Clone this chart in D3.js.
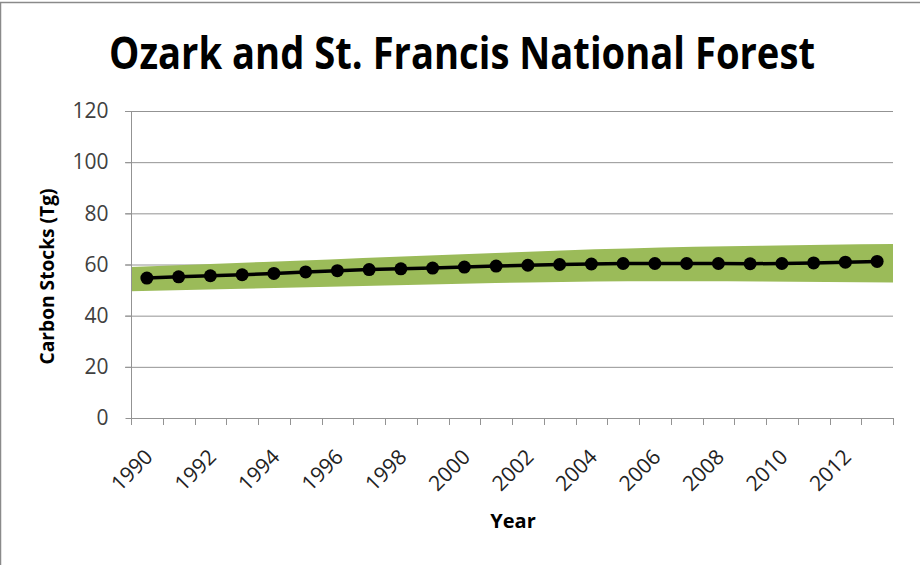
<!DOCTYPE html>
<html><head><meta charset="utf-8">
<script src="https://cdn.jsdelivr.net/npm/d3@7"></script>
<style>html,body{margin:0;padding:0;background:#fff;}svg{display:block;}</style>
</head><body>
<script>
const years = d3.range(1990, 2014);
const carbon = [54.7,55.2,55.6,56.0,56.5,57.1,57.6,58.0,58.3,58.6,59.0,59.4,59.7,60.0,60.2,60.4,60.4,60.4,60.4,60.3,60.4,60.6,60.9,61.2];
const upper = [59.0,59.5,60.0,60.5,61.0,61.5,62.0,62.5,63.0,63.5,64.0,64.5,65.0,65.5,66.0,66.3,66.6,66.9,67.1,67.3,67.5,67.7,67.9,68.0];
const lower = [49.5,49.8,50.1,50.4,50.7,51.0,51.3,51.6,51.9,52.2,52.5,52.8,53.0,53.2,53.4,53.5,53.5,53.5,53.5,53.4,53.3,53.2,53.1,53.0];
const yTicks = [0,20,40,60,80,100,120];
const xLabels = years.filter(y => (y - 1990) % 2 === 0);
const title = "Ozark and St. Francis National Forest";

const W = 920, H = 565;
const L = 131, R = 893, T = 111, B = 418;
const svg = d3.select("body").append("svg").attr("width", W).attr("height", H);
svg.append("rect").attr("x",0.5).attr("y",2.5).attr("width",W+5).attr("height",H+5)
  .attr("fill","#fff").attr("stroke","#8a8a8a").attr("stroke-width",1.5);

const x = d3.scaleBand().domain(years).range([L, R]).paddingInner(0).paddingOuter(0);
const xEdge = d3.scalePoint().domain(years).range([L, R]).padding(0);
const y = d3.scaleLinear().domain([0, 120]).range([B, T]);

svg.append("g").selectAll("line").data(yTicks.filter(d => d > 0)).join("line")
  .attr("x1", L - 6).attr("x2", R).attr("y1", d => y(d) + 0.5).attr("y2", d => y(d) + 0.5)
  .attr("stroke", "#939393").attr("stroke-width", 1);
const band = years.map((yr, i) => ({yr, lo: lower[i], hi: upper[i]}));
svg.append("path").datum(band)
  .attr("d", d3.area().x(d => xEdge(d.yr)).y0(d => y(d.lo)).y1(d => y(d.hi)))
  .attr("fill", "#9bbb59");
const ya = svg.append("g").attr("transform", `translate(${L + 0.5},0)`)
  .call(d3.axisLeft(y).tickValues(yTicks).tickSize(6).tickPadding(8));
ya.select(".domain").attr("stroke", "#939393").attr("d", `M0,${B}V${T}`);
ya.selectAll(".tick line").attr("stroke", "#939393");
ya.selectAll("text").attr("font-family", "'Open Sans', sans-serif").attr("font-size", 21)
  .attr("fill", "#404040").attr("x", -23);

const xg = svg.append("g");
xg.append("line").attr("x1", L).attr("x2", R + 1).attr("y1", B + 0.5).attr("y2", B + 0.5).attr("stroke", "#939393");
const edges = years.map(d => x(d)).concat([R]);
xg.selectAll("line.t").data(edges).join("line").attr("class","t")
  .attr("x1", d => Math.round(d) + 0.5).attr("x2", d => Math.round(d) + 0.5)
  .attr("y1", B).attr("y2", B + 7).attr("stroke", "#939393");
xg.selectAll("text").data(xLabels).join("text")
  .attr("transform", d => `translate(${x(d) + x.bandwidth()/2 + 2},${B + 35}) rotate(-45)`)
  .attr("text-anchor", "end").attr("dy", "0.35em")
  .attr("font-family", "'Open Sans', sans-serif").attr("font-size", 21).attr("fill", "#222")
  .text(d => d);

const cx = d => x(d) + x.bandwidth() / 2;
svg.append("path").datum(years.map((yr, i) => ({yr, v: carbon[i]})))
  .attr("d", d3.line().x(d => cx(d.yr)).y(d => y(d.v)))
  .attr("fill", "none").attr("stroke", "#000").attr("stroke-width", 3.5);
svg.append("g").selectAll("circle").data(years.map((yr, i) => ({yr, v: carbon[i]}))).join("circle")
  .attr("cx", d => cx(d.yr)).attr("cy", d => y(d.v)).attr("r", 6.5).attr("fill", "#000");

const tg = svg.append("g");
const tt = tg.append("text").attr("x", 0).attr("y", 0).attr("text-anchor", "middle")
  .attr("font-family", "'Open Sans', sans-serif").attr("font-weight", "bold").attr("font-size", 44)
  .attr("fill", "#000").text(title);
const natural = tt.node().getComputedTextLength() || 706;
tg.attr("transform", `translate(462,69) scale(${706 / natural},1)`);

svg.append("text").attr("transform", `translate(54,${(T + B) / 2 + 12}) rotate(-90)`).attr("text-anchor", "middle")
  .attr("font-family", "'Open Sans', sans-serif").attr("font-weight", "bold").attr("font-size", 19)
  .attr("textLength", 176).attr("lengthAdjust", "spacingAndGlyphs")
  .attr("fill", "#000").text("Carbon Stocks (Tg)");
svg.append("text").attr("x", 513).attr("y", 528).attr("text-anchor", "middle")
  .attr("font-family", "'Open Sans', sans-serif").attr("font-weight", "bold").attr("font-size", 20)
  .attr("fill", "#000").text("Year");
</script>
</body></html>
